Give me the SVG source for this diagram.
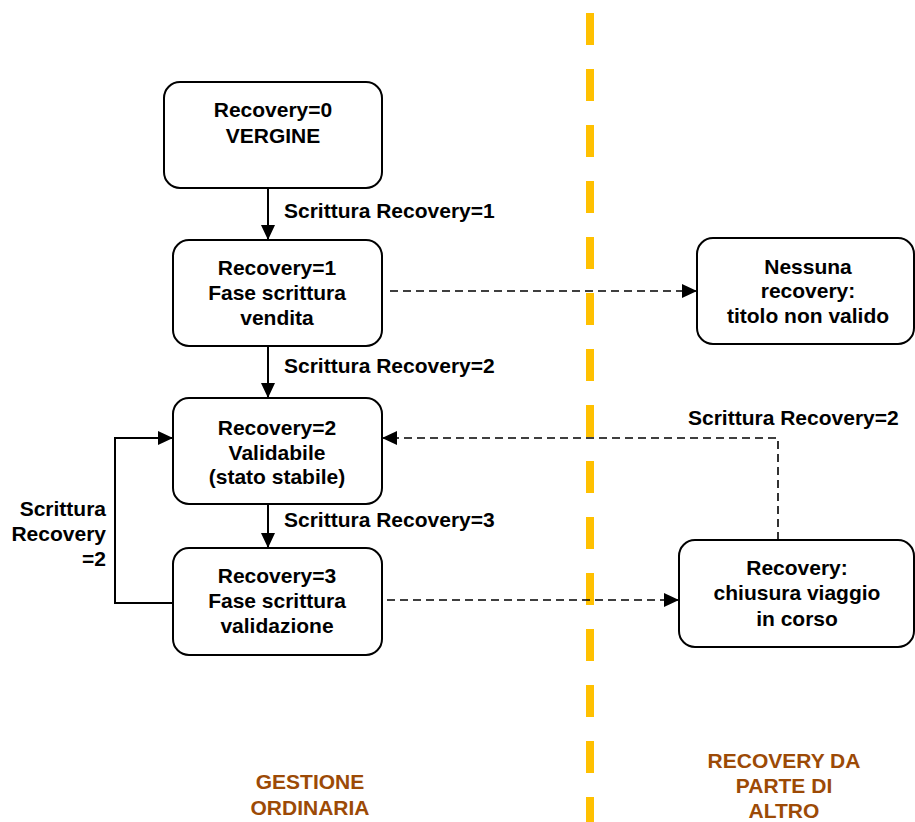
<svg xmlns="http://www.w3.org/2000/svg" width="915" height="822" viewBox="0 0 915 822">
<defs>
<style>
.box{fill:#fff;stroke:#000;stroke-width:2}
.t{font-family:"Liberation Sans",Arial,sans-serif;font-weight:bold;font-size:21px;fill:#000;text-anchor:middle}
.lbl{font-family:"Liberation Sans",Arial,sans-serif;font-weight:bold;font-size:21px;fill:#000}
.brown{font-family:"Liberation Sans",Arial,sans-serif;font-weight:bold;font-size:21px;fill:#9C4A06;text-anchor:middle}
.solid{fill:none;stroke:#000;stroke-width:2}
.dash{fill:none;stroke:#000;stroke-width:1.6;stroke-dasharray:8 5}
</style>
<marker id="ah" viewBox="0 0 15 14" refX="15" refY="7" markerWidth="15" markerHeight="14" markerUnits="userSpaceOnUse" orient="auto">
<path d="M0,0 L15,7 L0,14 Z" fill="#000"/>
</marker>
</defs>
<rect width="915" height="822" fill="#fff"/>
<line id="divider" x1="590" y1="13" x2="590" y2="822" stroke="#FFC000" stroke-width="8" stroke-dasharray="32 24"/>
<g id="connectors">
<line class="solid" x1="268" y1="188" x2="268" y2="240" marker-end="url(#ah)"/>
<line class="solid" x1="268" y1="346" x2="268" y2="398" marker-end="url(#ah)"/>
<line class="solid" x1="268" y1="504" x2="268" y2="548" marker-end="url(#ah)"/>
<polyline class="solid" points="178,603 115,603 115,438 173,438" marker-end="url(#ah)"/>
<line class="dash" x1="390" y1="291" x2="697" y2="291" marker-end="url(#ah)"/>
<line class="dash" x1="387" y1="600" x2="679" y2="600" marker-end="url(#ah)"/>
<polyline class="dash" points="778,540 778,438 382,438" marker-end="url(#ah)"/>
<text class="lbl" x="284" y="218">Scrittura Recovery=1</text>
<text class="lbl" x="284" y="373">Scrittura Recovery=2</text>
<text class="lbl" x="284" y="527">Scrittura Recovery=3</text>
<text class="lbl" x="688" y="425">Scrittura Recovery=2</text>
<text class="lbl" text-anchor="end" x="106" y="516">Scrittura</text>
<text class="lbl" text-anchor="end" x="106" y="541">Recovery</text>
<text class="lbl" text-anchor="end" x="106" y="566">=2</text>
</g>
<g id="n0">
<rect class="box" x="164" y="82" width="218" height="106" rx="16"/>
<text class="t" x="273" y="117">Recovery=0</text>
<text class="t" x="273" y="143">VERGINE</text>
</g>
<g id="n1">
<rect class="box" x="173" y="240" width="209" height="106" rx="16"/>
<text class="t" x="277" y="275">Recovery=1</text>
<text class="t" x="277" y="300">Fase scrittura</text>
<text class="t" x="277" y="325">vendita</text>
</g>
<g id="n2">
<rect class="box" x="173" y="398" width="209" height="106" rx="16"/>
<text class="t" x="277" y="435">Recovery=2</text>
<text class="t" x="277" y="460">Validabile</text>
<text class="t" x="277" y="484">(stato stabile)</text>
</g>
<g id="n3">
<rect class="box" x="173" y="548" width="209" height="107" rx="16"/>
<text class="t" x="277" y="583">Recovery=3</text>
<text class="t" x="277" y="608">Fase scrittura</text>
<text class="t" x="277" y="633">validazione</text>
</g>
<g id="n4">
<rect class="box" x="697" y="238" width="217" height="106" rx="16"/>
<text class="t" x="808" y="274">Nessuna</text>
<text class="t" x="808" y="298">recovery:</text>
<text class="t" x="808" y="323">titolo non valido</text>
</g>
<g id="n5">
<rect class="box" x="679" y="540" width="235" height="107" rx="16"/>
<text class="t" x="797" y="575">Recovery:</text>
<text class="t" x="797" y="600">chiusura viaggio</text>
<text class="t" x="797" y="626">in corso</text>
</g>
<g id="lane-left">
<text class="brown" x="310" y="789">GESTIONE</text>
<text class="brown" x="310" y="815">ORDINARIA</text>
</g>
<g id="lane-right">
<text class="brown" x="784" y="768">RECOVERY DA</text>
<text class="brown" x="784" y="793">PARTE DI</text>
<text class="brown" x="784" y="818">ALTRO</text>
</g>
</svg>
